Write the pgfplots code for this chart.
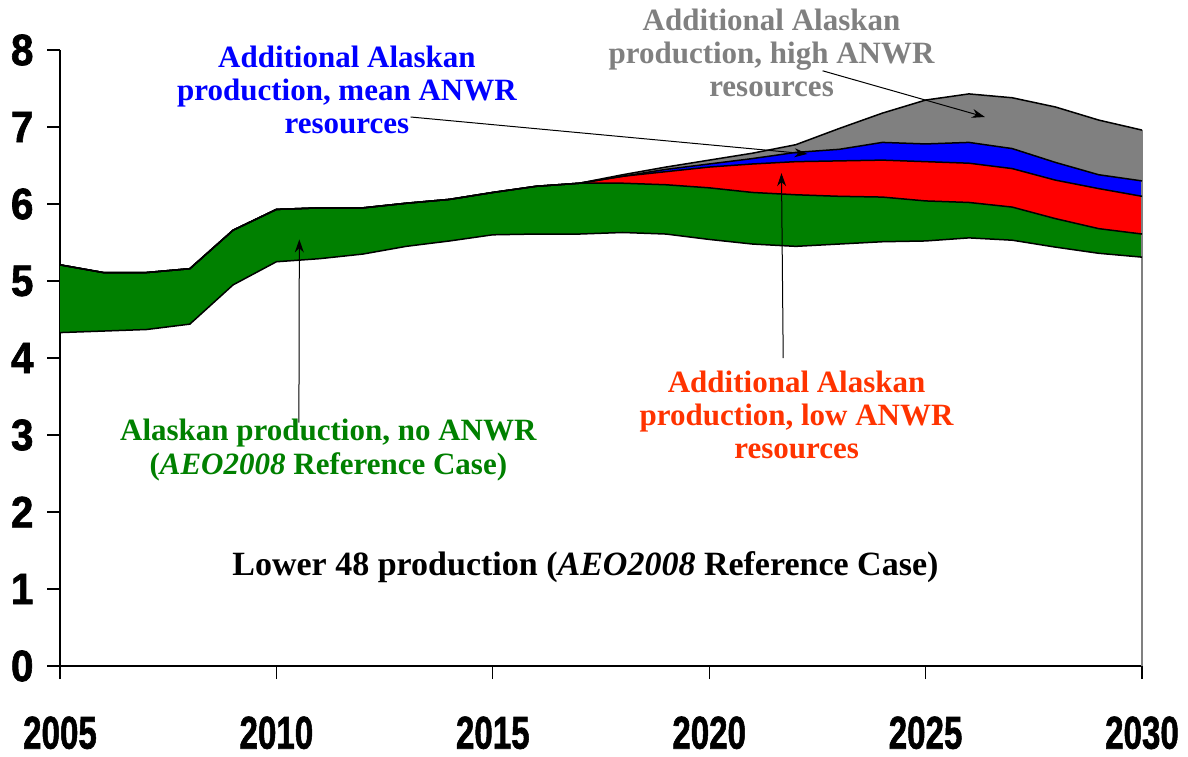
\documentclass[border=0pt]{standalone}
\usepackage{graphicx}
\usepackage{fontspec}
\setmainfont{Liberation Serif}
\newfontfamily\tickfont{Liberation Sans}[BoldFeatures={FakeBold=1.5}]
\usepackage{pgfplots}
\usepackage{pgfplotstable}
\pgfplotsset{compat=1.18}
\usetikzlibrary{arrows.meta}
\definecolor{agreen}{HTML}{008000}
\definecolor{ared}{HTML}{FF0000}
\definecolor{ablue}{HTML}{0000FF}
\definecolor{agray}{HTML}{808080}
\definecolor{tred}{HTML}{FF3300}
\newcommand\xl[1]{\scalebox{0.72}[1]{#1}}
\newcommand\yl[1]{\scalebox{0.92}[1]{#1}}

\pgfplotstableread{
year L48 AK low mean high
2005 4.33 5.21 5.21 5.21 5.21
2006 4.35 5.11 5.11 5.11 5.11
2007 4.37 5.11 5.11 5.11 5.11
2008 4.44 5.16 5.16 5.16 5.16
2009 4.95 5.66 5.66 5.66 5.66
2010 5.25 5.93 5.93 5.93 5.93
2011 5.29 5.95 5.95 5.95 5.95
2012 5.35 5.95 5.95 5.95 5.95
2013 5.45 6.01 6.01 6.01 6.01
2014 5.52 6.06 6.06 6.06 6.06
2015 5.60 6.15 6.15 6.15 6.15
2016 5.61 6.23 6.23 6.23 6.23
2017 5.61 6.27 6.27 6.27 6.27
2018 5.63 6.27 6.36 6.36 6.38
2019 5.61 6.25 6.42 6.45 6.48
2020 5.54 6.21 6.48 6.52 6.57
2021 5.48 6.15 6.52 6.59 6.66
2022 5.45 6.12 6.55 6.67 6.77
2023 5.48 6.10 6.56 6.71 6.98
2024 5.51 6.09 6.57 6.80 7.18
2025 5.52 6.04 6.55 6.78 7.35
2026 5.56 6.02 6.53 6.80 7.43
2027 5.53 5.96 6.46 6.72 7.38
2028 5.44 5.81 6.31 6.54 7.26
2029 5.36 5.68 6.20 6.38 7.09
2030 5.31 5.61 6.10 6.30 6.96
}\datatable

\begin{document}
\begin{tikzpicture}
\useasboundingbox (0pt,0pt) rectangle (1188pt,756pt);
\begin{axis}[
  at={(60pt,90pt)}, anchor=south west,
  scale only axis, width=1082pt, height=616pt,
  xmin=2005, xmax=2030, ymin=0, ymax=8,
  axis x line*=bottom, axis y line*=left,
  xtick={2005,2010,2015,2020,2025,2030},
  xticklabels={\xl{2005},\xl{2010},\xl{2015},\xl{2020},\xl{2025},\xl{2030}},
  ytick={0,1,2,3,4,5,6,7,8},
  yticklabels={\yl{0},\yl{1},\yl{2},\yl{3},\yl{4},\yl{5},\yl{6},\yl{7},\yl{8}},
  tick align=outside,
  major tick length=13pt,
  tick style={line width=1.2pt, black},
  axis line style={line width=1.3pt, black},
  xticklabel style={font=\tickfont\bfseries\fontsize{46}{46}\selectfont, yshift=-34pt},
  yticklabel style={font=\tickfont\bfseries\fontsize{44}{44}\selectfont, xshift=-10pt},
  clip=false,
]
% green band: AK (no ANWR) above Lower 48
\addplot[fill=agreen, draw=none] coordinates {
(2005,5.21) (2006,5.11) (2007,5.11) (2008,5.16) (2009,5.66) (2010,5.93) (2011,5.95) (2012,5.95) (2013,6.01) (2014,6.06) (2015,6.15) (2016,6.23) (2017,6.27) (2018,6.27) (2019,6.25) (2020,6.21) (2021,6.15) (2022,6.12) (2023,6.10) (2024,6.09) (2025,6.04) (2026,6.02) (2027,5.96) (2028,5.81) (2029,5.68) (2030,5.61)
(2030,5.31) (2029,5.36) (2028,5.44) (2027,5.53) (2026,5.56) (2025,5.52) (2024,5.51) (2023,5.48) (2022,5.45) (2021,5.48) (2020,5.54) (2019,5.61) (2018,5.63) (2017,5.61) (2016,5.61) (2015,5.60) (2014,5.52) (2013,5.45) (2012,5.35) (2011,5.29) (2010,5.25) (2009,4.95) (2008,4.44) (2007,4.37) (2006,4.35) (2005,4.33)
} -- cycle;
% red band: low ANWR
\addplot[fill=ared, draw=none] coordinates {
(2017,6.27) (2018,6.36) (2019,6.42) (2020,6.48) (2021,6.52) (2022,6.55) (2023,6.56) (2024,6.57) (2025,6.55) (2026,6.53) (2027,6.46) (2028,6.31) (2029,6.20) (2030,6.10)
(2030,5.61) (2029,5.68) (2028,5.81) (2027,5.96) (2026,6.02) (2025,6.04) (2024,6.09) (2023,6.10) (2022,6.12) (2021,6.15) (2020,6.21) (2019,6.25) (2018,6.27) (2017,6.27)
} -- cycle;
% blue band: mean ANWR
\addplot[fill=ablue, draw=none] coordinates {
(2017,6.27) (2018,6.36) (2019,6.45) (2020,6.52) (2021,6.59) (2022,6.67) (2023,6.71) (2024,6.80) (2025,6.78) (2026,6.80) (2027,6.72) (2028,6.54) (2029,6.38) (2030,6.30)
(2030,6.10) (2029,6.20) (2028,6.31) (2027,6.46) (2026,6.53) (2025,6.55) (2024,6.57) (2023,6.56) (2022,6.55) (2021,6.52) (2020,6.48) (2019,6.42) (2018,6.36) (2017,6.27)
} -- cycle;
% gray band: high ANWR
\addplot[fill=agray, draw=none] coordinates {
(2017,6.27) (2018,6.38) (2019,6.48) (2020,6.57) (2021,6.66) (2022,6.77) (2023,6.98) (2024,7.18) (2025,7.35) (2026,7.43) (2027,7.38) (2028,7.26) (2029,7.09) (2030,6.96)
(2030,6.30) (2029,6.38) (2028,6.54) (2027,6.72) (2026,6.80) (2025,6.78) (2024,6.80) (2023,6.71) (2022,6.67) (2021,6.59) (2020,6.52) (2019,6.45) (2018,6.36) (2017,6.27)
} -- cycle;

\addplot[agray, line width=1.5pt] coordinates {(2030,0) (2030,6.96)};

\addplot[black, line width=1.5pt] table[x=year,y=L48]{\datatable};
\addplot[black, line width=1.5pt] table[x=year,y=AK]{\datatable};
\addplot[black, line width=1.5pt] table[x=year,y=low]{\datatable};
\addplot[black, line width=1.5pt] table[x=year,y=mean]{\datatable};
\addplot[black, line width=1.5pt] table[x=year,y=high]{\datatable};

\node[align=center, text=ablue, font=\bfseries\fontsize{31}{33}\selectfont] at (axis cs:2011.63,7.48) {Additional Alaskan\\production, mean ANWR\\resources};
\node[align=center, text=agray, font=\bfseries\fontsize{31}{33}\selectfont] at (axis cs:2021.44,7.96) {Additional Alaskan\\production, high ANWR\\resources};
\node[align=center, text=tred, font=\bfseries\fontsize{31}{33}\selectfont] at (axis cs:2022.02,3.26) {Additional Alaskan\\production, low ANWR\\resources};
\node[align=center, text=agreen, font=\bfseries\fontsize{31}{34}\selectfont] at (axis cs:2011.2,2.81) {Alaskan production, no ANWR\\(\textit{AEO2008} Reference Case)};
\node[align=center, text=black, font=\bfseries\fontsize{34}{36}\selectfont] at (axis cs:2017.14,1.29) {Lower 48 production (\textit{AEO2008} Reference Case)};

\draw[-{Stealth[length=13pt,width=9pt]}, line width=1pt] (axis cs:2013.1,7.13) -- (axis cs:2022.27,6.65);
\draw[-{Stealth[length=13pt,width=9pt]}, line width=1pt] (axis cs:2022.62,7.73) -- (axis cs:2026.37,7.13);
\draw[-{Stealth[length=13pt,width=9pt]}, line width=1pt] (axis cs:2021.71,4.0) -- (axis cs:2021.67,6.40);
\draw[-{Stealth[length=13pt,width=9pt]}, line width=1pt] (axis cs:2010.52,3.16) -- (axis cs:2010.53,5.54);
\end{axis}
\end{tikzpicture}
\end{document}
